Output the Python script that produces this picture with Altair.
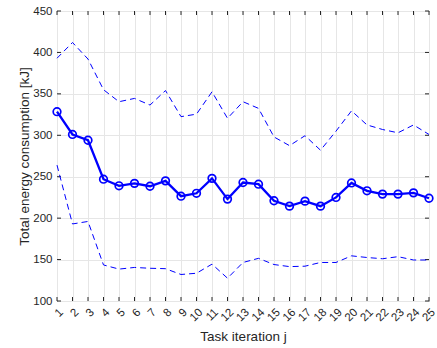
import altair as alt
import pandas as pd

# ---- data ----
iteration = list(range(1, 26))
mean_energy = [328.5, 301, 294, 247, 239, 242, 238.5, 245, 226.5, 230, 248, 223, 243,
               241, 221, 214.5, 220.5, 214.5, 225, 242.5, 233, 229, 229, 230.5, 224]
upper_bound = [393, 412, 392, 355, 340.5, 344.5, 336.5, 354, 322.5, 325.5, 352.5, 320.5, 340.5,
               332.5, 298, 287.5, 299.5, 282, 305, 329.5, 312.5, 307, 303, 312.5, 301]
lower_bound = [264, 193, 196, 143.5, 138.5, 140.5, 139.5, 139, 132, 133.5, 144.5, 127.5, 146.5,
               151.5, 144, 141.5, 142, 146.5, 146.5, 154.5, 152.5, 151, 153.5, 149.5, 149.5]
x_ticks = list(range(1, 26))
y_ticks = [100, 150, 200, 250, 300, 350, 400, 450]

df = pd.DataFrame({"j": iteration, "mean": mean_energy,
                   "upper": upper_bound, "lower": lower_bound})

BLUE = "#0000ff"
AX = "#262626"
GRID = "#e6e6e6"
FONT = "Liberation Sans"

W, H = 372, 290
x_dom = [1, 25]
y_dom = [100, 450]
x_scale = alt.Scale(domain=x_dom, nice=False, zero=False)
y_scale = alt.Scale(domain=y_dom, nice=False, zero=False)

x_axis = alt.Axis(values=x_ticks, format="d", grid=True, gridColor=GRID, ticks=False,
                  domain=False, labelAngle=315, labelFontSize=11.5, labelColor=AX,
                  labelPadding=5, labelFont=FONT, labelOverlap=False,
                  labelAlign="right", labelBaseline="top",
                  title="Task iteration j", titleFont=FONT, titleFontSize=13.5,
                  titleFontWeight="normal", titleColor=AX, titleX=W / 2, titleY=39,
                  titleAlign="center", titleBaseline="alphabetic")
y_axis = alt.Axis(values=y_ticks, grid=True, gridColor=GRID, ticks=False, domain=False,
                  labelFontSize=11.5, labelColor=AX, labelPadding=5, labelFont=FONT,
                  labelOverlap=False,
                  title="Total energy consumption [kJ]", titleFont=FONT, titleFontSize=13.5,
                  titleFontWeight="normal", titleColor=AX, titleAngle=270,
                  titleX=-29, titleY=H / 2, titleAlign="center", titleBaseline="alphabetic")

X = alt.X("j:Q", scale=x_scale, axis=x_axis)

upper_line = alt.Chart(df).mark_line(color=BLUE, strokeWidth=1, strokeDash=[6, 4]).encode(
    x=X, y=alt.Y("upper:Q", scale=y_scale, axis=y_axis))
lower_line = alt.Chart(df).mark_line(color=BLUE, strokeWidth=1, strokeDash=[6, 4]).encode(
    x=X, y=alt.Y("lower:Q", scale=y_scale, axis=y_axis))
mean_line = alt.Chart(df).mark_line(color=BLUE, strokeWidth=2.3).encode(
    x=X, y=alt.Y("mean:Q", scale=y_scale, axis=y_axis))
mean_pts = alt.Chart(df).mark_point(shape="circle", filled=False, color=BLUE, size=58,
                                    strokeWidth=1.7, opacity=1).encode(
    x=X, y=alt.Y("mean:Q", scale=y_scale, axis=y_axis))

# inward tick marks (MATLAB style), placed through the scales
tick_px = 4
ty = tick_px * (y_dom[1] - y_dom[0]) / H
tx = tick_px * (x_dom[1] - x_dom[0]) / W
xt = pd.DataFrame({"j": x_ticks * 2,
                   "y1": [y_dom[0]] * len(x_ticks) + [y_dom[1]] * len(x_ticks),
                   "y2": [y_dom[0] + ty] * len(x_ticks) + [y_dom[1] - ty] * len(x_ticks)})
yt = pd.DataFrame({"j": [x_dom[0]] * len(y_ticks) + [x_dom[1]] * len(y_ticks),
                   "j2": [x_dom[0] + tx] * len(y_ticks) + [x_dom[1] - tx] * len(y_ticks),
                   "v": y_ticks * 2})
x_tick_rules = alt.Chart(xt).mark_rule(color=AX, strokeWidth=1).encode(
    x=X, y=alt.Y("y1:Q", scale=y_scale, axis=y_axis), y2="y2:Q")
y_tick_rules = alt.Chart(yt).mark_rule(color=AX, strokeWidth=1).encode(
    x=X, x2="j2:Q", y=alt.Y("v:Q", scale=y_scale, axis=y_axis))

chart = alt.layer(x_tick_rules, y_tick_rules, upper_line, lower_line, mean_line, mean_pts).properties(
    width=W, height=H,
    autosize=alt.AutoSizeParams(type="none"),
    padding={"left": 57, "top": 11, "right": 8, "bottom": 47},
    background="white",
).configure_view(stroke=AX, strokeWidth=1)

chart.save("out.html", embed_options={"renderer": "svg", "actions": False})
